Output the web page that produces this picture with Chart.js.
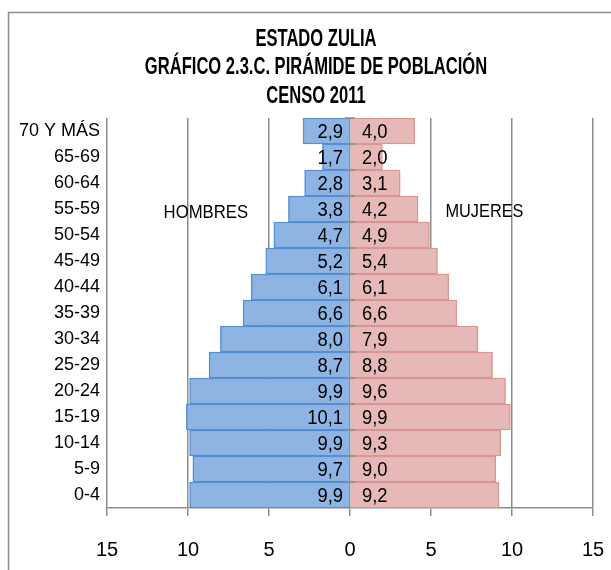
<!DOCTYPE html>
<html>
<head>
<meta charset="utf-8">
<script src="https://cdn.jsdelivr.net/npm/chart.js@4"></script>
<style>
    body { margin: 0; background: #ffffff; }
    #grafico { display: block; }
</style>
</head>
<body>
<canvas id="grafico" width="611" height="570"></canvas>
<script>
const grupos = ["70 Y MÁS", "65-69", "60-64", "55-59", "50-54", "45-49", "40-44", "35-39",
    "30-34", "25-29", "20-24", "15-19", "10-14", "5-9", "0-4"];
const hombres = [2.9, 1.7, 2.8, 3.8, 4.7, 5.2, 6.1, 6.6, 8.0, 8.7, 9.9, 10.1, 9.9, 9.7, 9.9];
const mujeres = [4.0, 2.0, 3.1, 4.2, 4.9, 5.4, 6.1, 6.6, 7.9, 8.8, 9.6, 9.9, 9.3, 9.0, 9.2];
const titulo = ["ESTADO ZULIA", "GRÁFICO 2.3.C. PIRÁMIDE DE POBLACIÓN", "CENSO 2011"];
const fuente = '"Liberation Sans", Arial, sans-serif';

const formato = (v) => Math.abs(v).toFixed(1).replace(".", ",");

// texto angosto: la fuente original es condensada
const texto = (ctx, s, x, y, escala) => {
    ctx.save();
    ctx.translate(x, y);
    ctx.scale(escala, 1);
    ctx.fillText(s, 0, 0);
    ctx.restore();
};

// marco, titulo, etiquetas de sexo y valores de cada barra
const extras = {
    id: "extras",
    beforeDraw: (chart) => {
        const ctx = chart.ctx;
        ctx.save();
        ctx.fillStyle = "#ffffff";
        ctx.fillRect(0, 0, chart.width, chart.height);
        ctx.strokeStyle = "#8c8c8c";
        ctx.lineWidth = 1.5;
        ctx.strokeRect(8.5, 12.5, 700, 700);
        ctx.fillStyle = "#000000";
        ctx.textAlign = "center";
        ctx.textBaseline = "middle";
        ctx.font = "bold 23px " + fuente;
        const ys = [40, 68, 97];
        titulo.forEach((t, i) => texto(ctx, t, 316, ys[i], 0.72));
        ctx.restore();
    },
    afterDatasetsDraw: (chart) => {
        const ctx = chart.ctx;
        const x = chart.scales.x;
        const y = chart.scales.y;
        const cero = x.getPixelForValue(0);
        ctx.save();
        // marcas del eje vertical entre grupos
        ctx.strokeStyle = "#8c8c8c";
        ctx.lineWidth = 1.5;
        ctx.beginPath();
        for (let i = 0; i < grupos.length; i++) {
            const yy = y.getPixelForValue(i) - y.height / grupos.length / 2;
            ctx.moveTo(cero - 5, yy);
            ctx.lineTo(cero + 5, yy);
        }
        ctx.stroke();

        ctx.fillStyle = "#000000";
        ctx.textBaseline = "middle";
        ctx.font = "20px " + fuente;
        chart.getDatasetMeta(0).data.forEach((bar, i) => {
            ctx.textAlign = "right";
            texto(ctx, formato(hombres[i]), cero - 7, bar.y + 1, 0.92);
        });
        chart.getDatasetMeta(1).data.forEach((bar, i) => {
            ctx.textAlign = "left";
            texto(ctx, formato(mujeres[i]), cero + 12, bar.y + 1, 0.92);
        });
        ctx.font = "19px " + fuente;
        ctx.textAlign = "center";
        texto(ctx, "HOMBRES", x.getPixelForValue(-8.9), 213, 0.88);
        texto(ctx, "MUJERES", x.getPixelForValue(8.3), 212, 0.86);
        ctx.restore();
    }
};

new Chart(document.getElementById("grafico"), {
    type: "bar",
    data: {
        labels: grupos,
        datasets: [
            {
                label: "HOMBRES",
                data: hombres.map((v) => -v),
                backgroundColor: "#8db4e2",
                borderColor: "#558ed5",
                borderWidth: 1.5
            },
            {
                label: "MUJERES",
                data: mujeres,
                backgroundColor: "#e6b9b8",
                borderColor: "#d99694",
                borderWidth: 1.5
            }
        ]
    },
    options: {
        indexAxis: "y",
        responsive: false,
        animation: false,
        maintainAspectRatio: false,
        barPercentage: 1,
        categoryPercentage: 1,
        layout: { padding: { left: 8, right: 18, top: 118, bottom: 12 } },
        plugins: {
            legend: { display: false },
            tooltip: { enabled: false }
        },
        scales: {
            x: {
                stacked: true,
                min: -15,
                max: 15,
                afterFit: (scale) => {
                    scale.height = 50;
                    scale.paddingLeft = 0;
                    scale.paddingRight = 0;
                },
                grid: { color: "#8c8c8c", lineWidth: 1.5, tickLength: 8 },
                border: { color: "#8c8c8c", width: 1.5 },
                ticks: {
                    stepSize: 5,
                    padding: 22,
                    color: "#000000",
                    font: { family: fuente, size: 20 },
                    callback: (v) => Math.abs(v)
                }
            },
            y: {
                stacked: true,
                afterFit: (scale) => { scale.width = 99; },
                grid: { display: false, drawTicks: false },
                border: { display: false },
                ticks: {
                    padding: 7,
                    color: "#000000",
                    font: { family: fuente, size: 18 }
                }
            }
        }
    },
    plugins: [extras]
});
</script>
</body>
</html>
